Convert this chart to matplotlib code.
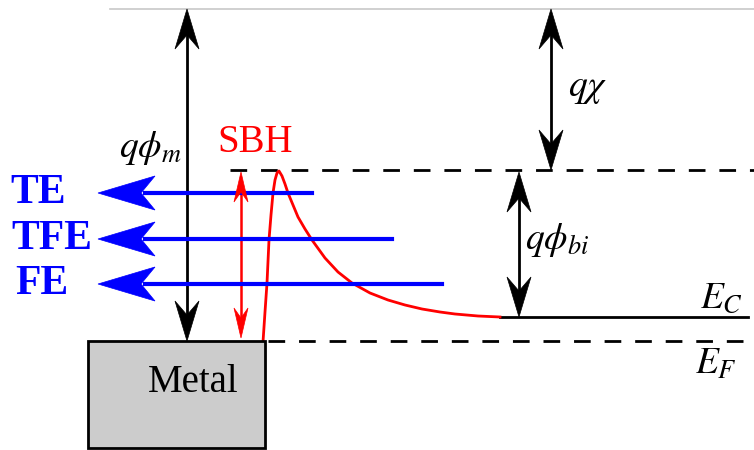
import numpy as np
import matplotlib.pyplot as plt
from matplotlib.patches import Polygon, Rectangle

plt.rcParams['mathtext.fontset'] = 'stix'
SERIF = 'Liberation Serif'

# energy levels (image units, y grows downward)
vacuum = 9
barrier_top = 170
e_c = 317
e_f = 341

# red barrier profile
barrier_x = [263, 265, 267, 269, 271, 273, 275, 277, 279, 282, 285, 288, 293,
             298, 305, 312, 325, 338, 352, 370, 388, 405, 422, 440, 455, 478, 500]
barrier_y = [342, 312, 283, 240, 215, 193, 180, 173, 171, 176, 184, 193, 205,
             217, 229, 240, 258, 272, 283, 293, 300, 305, 309, 312, 314, 316, 317]

# emission mechanisms: label, height, start of arrow
mech_names = ['TE', 'TFE', 'FE']
mech_y = [193, 239, 284]
mech_start = [312, 392, 442]
mech_label_x = [38, 52, 42]


def head(ax, tip, direction, length, half, notch, color):
    tx, ty = tip
    dx, dy = direction
    px, py = -dy, dx
    bx, by = tx - dx * length, ty - dy * length
    nx, ny = tx - dx * (length - notch), ty - dy * (length - notch)
    pts = [(tx, ty), (bx + px * half, by + py * half), (nx, ny),
           (bx - px * half, by - py * half)]
    ax.add_patch(Polygon(pts, closed=True, fc=color, ec=color, lw=0.5, zorder=5))


def double_arrow(ax, x, y0, y1, color='black', lw=2, length=40, half=12, notch=14):
    ax.plot([x, x], [y0 + length - notch, y1 - length + notch], color=color, lw=lw, zorder=4)
    head(ax, (x, y0), (0, -1), length, half, notch, color)
    head(ax, (x, y1), (0, 1), length, half, notch, color)


fig = plt.figure(figsize=(7.54, 4.5), dpi=100)
ax = fig.add_axes([0, 0, 1, 1])
ax.set_xlim(0, 754)
ax.set_ylim(450, 0)
ax.axis('off')

# vacuum level
ax.plot([110, 754], [vacuum, vacuum], color='#c8c8c8', lw=1.2)

# metal block
ax.add_patch(Rectangle((88, e_f), 177, 107, fc='#cccccc', ec='black', lw=2, zorder=3))
ax.text(193, 383, 'Metal', fontsize=28, family=SERIF, ha='center', va='center', zorder=6)

# dashed levels
ax.plot([230, 754], [barrier_top, barrier_top], color='black', lw=2, dashes=(6, 5))
ax.plot([268, 754], [e_f, e_f], color='black', lw=2, dashes=(6, 5))
# conduction band
ax.plot([500, 748], [e_c, e_c], color='black', lw=2)
ax.plot(barrier_x, barrier_y, color='red', lw=2, solid_joinstyle='round')

# work function, affinity, built-in potential
double_arrow(ax, 187, vacuum, e_f)
double_arrow(ax, 551, vacuum, barrier_top)
double_arrow(ax, 519, barrier_top + 2, e_c)
double_arrow(ax, 241, barrier_top + 2, e_f - 3, color='red', lw=1.8,
             length=30, half=7, notch=10)

ax.text(150, 148, r'$q\phi_m$', fontsize=27, ha='center', va='center')
ax.text(588, 88, r'$q\chi$', fontsize=27, ha='center', va='center')
ax.text(557, 240, r'$q\phi_{bi}$', fontsize=27, ha='center', va='center')
ax.text(722, 298, r'$E_C$', fontsize=27, ha='center', va='center')
ax.text(716, 364, r'$E_F$', fontsize=27, ha='center', va='center')
ax.text(255, 143, 'SBH', fontsize=28, family=SERIF, color='red', ha='center', va='center')

# tunneling / emission arrows
for name, y, x0, lx in zip(mech_names, mech_y, mech_start, mech_label_x):
    ax.plot([x0, 145], [y, y], color='blue', lw=3, zorder=4)
    head(ax, (98, y), (-1, 0), 57, 17, 14, 'blue')
    ax.text(lx, y, name, fontsize=30, family=SERIF, fontweight='bold', color='blue',
            ha='center', va='center')

plt.savefig('out.png', dpi=100)
